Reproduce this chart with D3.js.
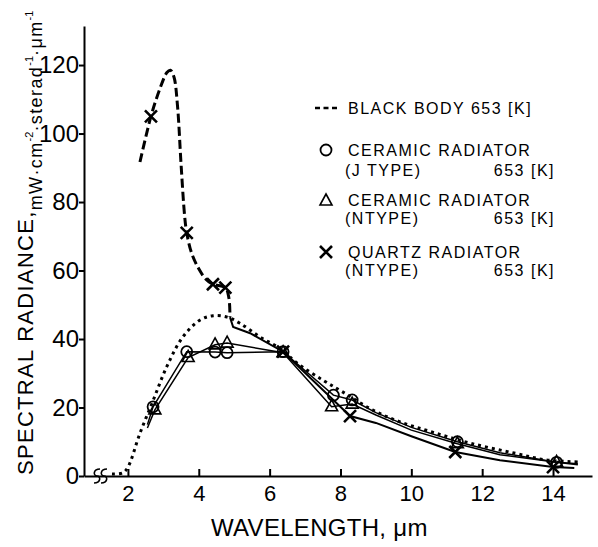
<html>
<head>
<script src="https://d3js.org/d3.v7.min.js"></script>
<style>
    body { margin: 0; background: #fff; }
    text { font-family: "Liberation Sans", Arial, sans-serif; fill: #000; }
    .axis path, .axis line { stroke: #000; stroke-width: 2; }
    .axis text { font-family: "Liberation Sans", Arial, sans-serif; }
</style>
</head>
<body>
<svg width="598" height="547"></svg>
<script>
// axis ticks
const yTicks = [0, 20, 40, 60, 80, 100, 120];
const xTicks = [2, 4, 6, 8, 10, 12, 14];

// black body 653 K (dotted)
const bbWave = [1.55, 1.85, 2.0, 2.34, 2.71, 3.1, 3.55, 4.03, 4.4, 4.8, 5.16, 5.73, 6.35, 6.77, 7.5, 8.07, 8.9, 9.68, 10.6, 11.66, 12.9, 13.8, 14.7];
const bbRad  = [0.6, 0.9, 2.6, 12.5, 22, 32, 40.6, 45.5, 46.8, 46.4, 44.6, 40.6, 36.8, 33, 28, 24.5, 19.3, 15.8, 12.8, 9.6, 6.7, 4.7, 4.1];

// ceramic radiator J type (circles)
const jWave = [2.55, 2.71, 3.66, 4.46, 4.8, 6.38, 7.8, 8.33, 9.0, 10.0, 11.3, 12.5, 14.1, 14.7];
const jRad  = [15, 20.2, 36.3, 36.2, 36.0, 36.3, 23.6, 22.2, 18.5, 14.2, 10, 6.8, 4.0, 3.6];
const jMarked = [1, 2, 3, 4, 5, 6, 7, 10, 12];

// ceramic radiator N type (triangles)
const nWave = [2.55, 2.76, 3.7, 4.46, 4.8, 6.38, 7.75, 8.33, 9.0, 10.0, 11.3, 12.5, 14.1, 14.7];
const nRad  = [14, 19.3, 34.6, 38.3, 38.8, 36.0, 20.2, 21.0, 17.8, 13.4, 9.4, 6.2, 4.0, 3.3];
const nMarked = [1, 2, 3, 4, 5, 6, 7, 10, 12];

// quartz radiator N type (crosses), dashed up to index qDashEnd
const qWave = [2.34, 2.65, 2.9, 3.1, 3.2, 3.3, 3.4, 3.5, 3.6, 3.66, 3.8, 4.0, 4.2, 4.4, 4.75, 4.85, 4.88, 4.97, 5.45, 6.38, 8.27, 9.0, 10.0, 11.24, 12.5, 14.0, 14.6];
const qRad  = [91.7, 105, 113, 117.8, 118.5, 116.5, 108, 91, 76, 71, 65, 60.5, 57.5, 56, 55, 52, 46.4, 43.5, 41.7, 36.3, 17.5, 15.5, 11.6, 7, 4.6, 2.6, 2.3];
const qMarked = [1, 9, 13, 14, 19, 20, 23, 25];
const qDashEnd = 16;

const svg = d3.select("svg");
const margins = { top: 26, right: 6, bottom: 71, left: 84 };
const width = +svg.attr("width");
const height = +svg.attr("height");

const xScale = d3.scaleLinear().domain([0.76, 15.1]).range([margins.left, width - margins.right]);
const yScale = d3.scaleLinear().domain([0, 131.4]).range([height - margins.bottom, margins.top]);

// axes
svg.append("g")
    .attr("class", "axis")
    .attr("transform", `translate(${margins.left},0)`)
    .call(d3.axisLeft(yScale).tickValues(yTicks).tickSizeInner(5).tickSizeOuter(0).tickPadding(0))
    .selectAll("text").attr("font-size", 24);

svg.append("g")
    .attr("class", "axis")
    .attr("transform", `translate(0,${yScale(0)})`)
    .call(d3.axisBottom(xScale).tickValues(xTicks).tickSizeInner(-7).tickSizeOuter(0).tickPadding(9))
    .selectAll("text").attr("font-size", 22);

// axis break marks
[97, 104].forEach(cx => {
    const cy = yScale(0);
    svg.append("path")
        .attr("d", `M${cx + 3},${cy - 7} C${cx - 4},${cy - 7} ${cx - 4},${cy} ${cx},${cy} C${cx + 4},${cy} ${cx + 4},${cy + 7} ${cx - 3},${cy + 7}`)
        .attr("fill", "none").attr("stroke", "#000").attr("stroke-width", 1.6);
});

// axis titles
svg.append("text")
    .attr("x", 211).attr("y", 536)
    .attr("font-size", 24).attr("letter-spacing", 0.3)
    .text("WAVELENGTH, μm");

const yTitle = svg.append("text")
    .attr("transform", "translate(33,475) rotate(-90)");
yTitle.append("tspan").attr("font-size", 22).attr("letter-spacing", 1.3).text("SPECTRAL RADIANCE,");
yTitle.append("tspan").attr("font-size", 18).attr("letter-spacing", 1.4).attr("dy", 9).text("mW·cm");
yTitle.append("tspan").attr("font-size", 11).attr("dy", -9).text("-2");
yTitle.append("tspan").attr("font-size", 18).attr("letter-spacing", 1.4).attr("dy", 9).text("·sterad");
yTitle.append("tspan").attr("font-size", 11).attr("dy", -9).text("-1");
yTitle.append("tspan").attr("font-size", 18).attr("letter-spacing", 1.4).attr("dy", 9).text("·μm");
yTitle.append("tspan").attr("font-size", 11).attr("dy", -9).text("-1");

// lines
const pts = (w, r) => w.map((d, i) => [xScale(d), yScale(r[i])]);
const smooth = d3.line().curve(d3.curveCatmullRom.alpha(0.5));
const straight = d3.line();

svg.append("path")
    .attr("d", smooth(pts(bbWave, bbRad)))
    .attr("fill", "none").attr("stroke", "#000").attr("stroke-width", 3)
    .attr("stroke-dasharray", "3,4");

[[jWave, jRad], [nWave, nRad]].forEach(([w, r]) => {
    svg.append("path")
        .attr("d", straight(pts(w, r)))
        .attr("fill", "none").attr("stroke", "#000").attr("stroke-width", 1.5);
});

const qPts = pts(qWave, qRad);
svg.append("path")
    .attr("d", smooth(qPts.slice(0, qDashEnd + 1)))
    .attr("fill", "none").attr("stroke", "#000").attr("stroke-width", 3)
    .attr("stroke-dasharray", "9,4");
svg.append("path")
    .attr("d", straight(qPts.slice(qDashEnd)))
    .attr("fill", "none").attr("stroke", "#000").attr("stroke-width", 2);

// markers
const circleMark = (g, x, y) => g.append("circle").attr("cx", x).attr("cy", y).attr("r", 5.5)
    .attr("fill", "none").attr("stroke", "#000").attr("stroke-width", 1.8);
const triMark = (g, x, y) => g.append("path")
    .attr("d", `M${x},${y - 7} L${x + 6},${y + 4} L${x - 6},${y + 4} Z`)
    .attr("fill", "none").attr("stroke", "#000").attr("stroke-width", 1.6);
const crossMark = (g, x, y) => g.append("path")
    .attr("d", `M${x - 6},${y - 6} L${x + 6},${y + 6} M${x + 6},${y - 6} L${x - 6},${y + 6}`)
    .attr("stroke", "#000").attr("stroke-width", 2.6);

jMarked.forEach(i => circleMark(svg, xScale(jWave[i]), yScale(jRad[i])));
nMarked.forEach(i => triMark(svg, xScale(nWave[i]), yScale(nRad[i])));
qMarked.forEach(i => crossMark(svg, xScale(qWave[i]), yScale(qRad[i])));

// legend
const legend = svg.append("g").attr("font-size", 16).attr("letter-spacing", 1.5);
legend.append("line").attr("x1", 315).attr("x2", 340).attr("y1", 108).attr("y2", 108)
    .attr("stroke", "#000").attr("stroke-width", 2.4).attr("stroke-dasharray", "5,3.5");
legend.append("text").attr("x", 348).attr("y", 114).text("BLACK BODY 653 [K]");

circleMark(legend, 326, 150);
legend.append("text").attr("x", 348).attr("y", 156).text("CERAMIC RADIATOR");
legend.append("text").attr("x", 345).attr("y", 175.5).text("(J TYPE)");
legend.append("text").attr("x", 555).attr("y", 175.5).attr("text-anchor", "end").text("653 [K]");

triMark(legend, 326, 201);
legend.append("text").attr("x", 348).attr("y", 205.5).text("CERAMIC RADIATOR");
legend.append("text").attr("x", 345).attr("y", 224).text("(NTYPE)");
legend.append("text").attr("x", 555).attr("y", 224).attr("text-anchor", "end").text("653 [K]");

crossMark(legend, 326, 252);
legend.append("text").attr("x", 348).attr("y", 257.5).text("QUARTZ RADIATOR");
legend.append("text").attr("x", 345).attr("y", 276).text("(NTYPE)");
legend.append("text").attr("x", 555).attr("y", 276).attr("text-anchor", "end").text("653 [K]");
</script>
</body>
</html>
